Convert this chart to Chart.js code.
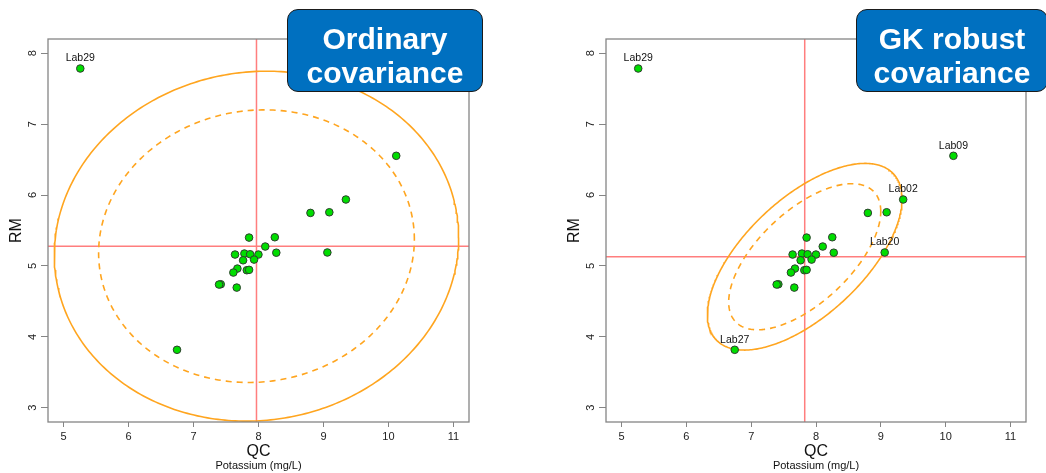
<!DOCTYPE html>
<html>
<head>
<meta charset="utf-8">
<title>Potassium QC vs RM</title>
<script src="https://cdn.jsdelivr.net/npm/chart.js@4/dist/chart.umd.min.js"></script>
<style>
  html, body { margin: 0; padding: 0; background: #fff; }
  #wrap { position: relative; width: 1046px; height: 473px; overflow: hidden; }
  .panel { position: absolute; top: 0; width: 523px; height: 473px; }
  .tag {
    position: absolute; top: 9px; height: 83px; box-sizing: border-box;
    background: #0070C0; border: 1.5px solid #1b1b1b; border-radius: 11px;
    color: #fff; font: bold 30px "Liberation Sans", Arial, sans-serif;
    text-align: center; line-height: 34px; padding-top: 12px; white-space: nowrap;
  }
</style>
</head>
<body>
<div id="wrap">
  <canvas id="left" class="panel" style="left:0" width="523" height="473"></canvas>
  <canvas id="right" class="panel" style="left:523px" width="523" height="473"></canvas>
  <div class="tag" style="left:287px;width:196px">Ordinary<br>covariance</div>
  <div class="tag" style="left:856px;width:192px">GK robust<br>covariance</div>
</div>
<script>
// Potassium (mg/L): each laboratory's QC result against its RM result.
// The first five entries are the laboratories that get a name tag.
const labNames = ['Lab29', 'Lab09', 'Lab02', 'Lab27', 'Lab20'];
const qcValues = [5.257, 10.12, 9.345, 6.746, 9.060,
  8.800, 9.090, 7.855, 8.251, 8.104, 8.274, 7.639, 7.783, 7.871, 7.999,
  7.932, 7.763, 7.675, 7.613, 7.820, 7.855, 7.419, 7.393, 7.665];
const rmValues = [7.784, 6.553, 5.937, 3.818, 5.190,
  5.748, 5.757, 5.400, 5.405, 5.274, 5.187, 5.161, 5.175, 5.165, 5.161,
  5.090, 5.080, 4.963, 4.907, 4.940, 4.945, 4.742, 4.738, 4.695];

// Axis ticks
const xTicks = [5, 6, 7, 8, 9, 10, 11];
const yTicks = [3, 4, 5, 6, 7, 8];

// Tolerance ellipses: centre, half-extents (outer solid / inner dashed) and correlation
const ordinaryCentre = [7.969, 5.279];
const ordinaryOuter = [3.112, 2.467];
const ordinaryInner = [2.430, 1.922];
const ordinaryRho = 0.05;

const robustCentre = [7.826, 5.130];
const robustOuter = [1.502, 1.316];
const robustInner = [1.173, 1.030];
const robustRho = 0.62;

// Which laboratories are tagged on each panel
const ordinaryTagged = ['Lab29'];
const robustTagged = ['Lab29', 'Lab09', 'Lab02', 'Lab20', 'Lab27'];

const FONT = '"Liberation Sans", Arial, Helvetica, sans-serif';

function ellipse(centre, half, rho) {
  const pts = [];
  const s = Math.sqrt(1 - rho * rho);
  const n = 360;
  for (let i = 0; i <= n; i++) {
    const t = (i / n) * 2 * Math.PI;
    pts.push({
      x: centre[0] + half[0] * Math.cos(t),
      y: centre[1] + half[1] * (rho * Math.cos(t) + s * Math.sin(t))
    });
  }
  return pts;
}

function decorPlugin(centre, tagged) {
  return {
    id: 'decor',
    beforeDatasetsDraw(chart) {
      const { ctx, chartArea: a, scales: { x, y } } = chart;
      const px = x.getPixelForValue(centre[0]);
      const py = y.getPixelForValue(centre[1]);
      ctx.save();
      ctx.beginPath(); ctx.rect(a.left, a.top, a.width, a.height); ctx.clip();
      ctx.strokeStyle = 'rgba(255, 40, 40, 0.6)';
      ctx.lineWidth = 1.5;
      ctx.beginPath();
      ctx.moveTo(px, a.top); ctx.lineTo(px, a.bottom);
      ctx.moveTo(a.left, py); ctx.lineTo(a.right, py);
      ctx.stroke();
      ctx.restore();
    },
    afterDatasetsDraw(chart) {
      const { ctx } = chart;
      const meta = chart.getDatasetMeta(0);
      ctx.save();
      ctx.font = '10.5px ' + FONT;
      ctx.fillStyle = '#111';
      ctx.textAlign = 'center';
      ctx.textBaseline = 'middle';
      labNames.forEach((name, i) => {
        if (!tagged.includes(name)) return;
        const el = meta.data[i];
        ctx.fillText(name, el.x, el.y - 10);
      });
      ctx.restore();
    },
    afterDraw(chart) {
      const { ctx, chartArea: a, scales: { y } } = chart;
      ctx.save();
      // frame
      ctx.strokeStyle = '#858585';
      ctx.lineWidth = 1.3;
      ctx.strokeRect(a.left, a.top, a.width, a.height);
      // y tick labels, turned to read upward
      ctx.fillStyle = '#222';
      ctx.font = '11px ' + FONT;
      ctx.textAlign = 'center';
      ctx.textBaseline = 'middle';
      yTicks.forEach(v => {
        ctx.save();
        ctx.translate(a.left - 15.5, y.getPixelForValue(v));
        ctx.rotate(-Math.PI / 2);
        ctx.fillText(String(v), 0, 0);
        ctx.restore();
      });
      // axis titles
      const cx = (a.left + a.right) / 2;
      ctx.fillStyle = '#111';
      ctx.font = '16px ' + FONT;
      ctx.fillText('QC', cx, 452);
      ctx.font = '11px ' + FONT;
      ctx.fillText('Potassium (mg/L)', cx, 466);
      ctx.save();
      ctx.translate(a.left - 31.6, (a.top + a.bottom) / 2);
      ctx.rotate(-Math.PI / 2);
      ctx.font = '16px ' + FONT;
      ctx.fillText('RM', 0, 0);
      ctx.restore();
      ctx.restore();
    }
  };
}

function makePanel(id, centre, outer, inner, rho, tagged, padLeft, padRight) {
  const points = qcValues.map((q, i) => ({ x: q, y: rmValues[i] }));
  return new Chart(document.getElementById(id), {
    type: 'scatter',
    data: {
      datasets: [
        {
          data: points,
          backgroundColor: '#00DD00',
          borderColor: '#2d3d2d',
          borderWidth: 1,
          pointRadius: 3.8,
          pointHoverRadius: 3.8
        },
        {
          data: ellipse(centre, outer, rho),
          showLine: true, fill: false, tension: 0,
          borderColor: '#FFA51F', borderWidth: 1.6,
          pointRadius: 0, pointHoverRadius: 0
        },
        {
          data: ellipse(centre, inner, rho),
          showLine: true, fill: false, tension: 0,
          borderColor: '#FFA51F', borderWidth: 1.6, borderDash: [6, 5],
          pointRadius: 0, pointHoverRadius: 0
        }
      ]
    },
    options: {
      responsive: false,
      animation: false,
      devicePixelRatio: 1,
      events: [],
      layout: { padding: { left: padLeft, right: padRight, top: 39, bottom: 0 } },
      plugins: { legend: { display: false }, tooltip: { enabled: false } },
      scales: {
        x: {
          type: 'linear', min: 4.76, max: 11.24,
          afterBuildTicks: s => { s.ticks = xTicks.map(v => ({ value: v })); },
          afterFit: s => { s.height = 51; },
          border: { display: false },
          grid: { display: true, drawOnChartArea: false, drawTicks: true, tickLength: 5, color: '#858585', lineWidth: 1 },
          ticks: { autoSkip: false, maxRotation: 0, minRotation: 0, padding: 3,
                   color: '#222', font: { family: FONT, size: 11 } }
        },
        y: {
          type: 'linear', min: 2.8, max: 8.2,
          afterBuildTicks: s => { s.ticks = yTicks.map(v => ({ value: v })); },
          afterFit: s => { s.width = 48; },
          border: { display: false },
          grid: { display: true, drawOnChartArea: false, drawTicks: true, tickLength: 7, color: '#858585', lineWidth: 1 },
          ticks: { display: false }
        }
      }
    },
    plugins: [decorPlugin(centre, tagged)]
  });
}

makePanel('left', ordinaryCentre, ordinaryOuter, ordinaryInner, ordinaryRho, ordinaryTagged, 0, 54);
makePanel('right', robustCentre, robustOuter, robustInner, robustRho, robustTagged, 35, 20);
</script>
</body>
</html>
